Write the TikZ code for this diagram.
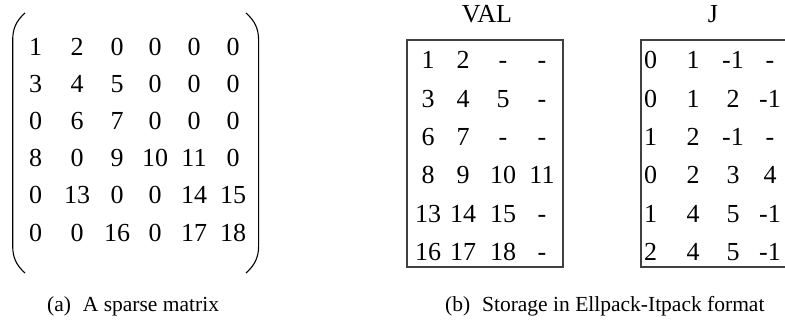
\documentclass[tikz,border=0pt]{standalone}
\usepackage{fontspec}
\setmainfont{Liberation Serif}
\begin{document}
\begin{tikzpicture}[x=1pt,y=-1pt,
  entry/.style={inner sep=0pt, anchor=center, text height=17.6pt, text depth=0pt,
                font=\fontsize{26}{30}\selectfont},
  label/.style={inner sep=0pt, anchor=base, font=\fontsize{26}{30}\selectfont},
  caption/.style={inner sep=0pt, anchor=base west, font=\fontsize{21.5}{26}\selectfont},
  paren/.style={line width=1.1pt, black},
  frame/.style={draw=black!75, line width=1.1pt}]
\useasboundingbox (0,0) rectangle (785,323);
\clip (0,0) rectangle (785,323);

% ---- (a) the sparse matrix ----
\def\rowsA{{"1","2","0","0","0","0"},{"3","4","5","0","0","0"},{"0","6","7","0","0","0"},{"8","0","9","10","11","0"},{"0","13","0","0","14","15"},{"0","0","16","0","17","18"}}
\foreach \r [count=\i] in {46.7,83.5,120.7,157.6,195,233.2}{
  \foreach \c [count=\j] in {35.5,77,117,155,194,233}{
    \pgfmathsetmacro{\txt}{{\rowsA}[\i-1][\j-1]}
    \node[entry] (a-\i-\j) at (\c,\r) {\txt};
  }
}
% delimiters drawn as thin curves
\draw[paren] (25,13) .. controls (16,21) and (12.7,29) .. (12.7,40)
  -- (12.7,246) .. controls (12.7,257) and (16,265) .. (25,273);
\draw[paren] (246,13) .. controls (255,21) and (258.6,29) .. (258.6,40)
  -- (258.6,246) .. controls (258.6,257) and (255,265) .. (246,273);
\node[caption] (capA) at (47,312) {(a)\hskip 0.55em A sparse matrix};

% ---- (b) Ellpack-Itpack storage ----
\node[label] (valT) at (487,23) {VAL};
\node[label] (jT) at (713,23) {J};
\draw[frame] (407,40) rectangle (563,267);
\draw[frame] (641,40) rectangle (800,267);

\def\rowsV{{"1","2","-","-"},{"3","4","5","-"},{"6","7","-","-"},{"8","9","10","11"},{"13","14","15","-"},{"16","17","18","-"}}
\def\rowsJ{{"0","1","-1","-"},{"0","1","2","-1"},{"1","2","-1","-"},{"0","2","3","4"},{"1","4","5","-1"},{"2","4","5","-1"}}
\foreach \r [count=\i] in {60,99,137,175,213.5,252}{
  \foreach \c [count=\j] in {428,463,503,542}{
    \pgfmathsetmacro{\txt}{{\rowsV}[\i-1][\j-1]}
    \node[entry] (v-\i-\j) at (\c,\r) {\txt};
  }
  \foreach \c [count=\j] in {650.5,693,733,770}{
    \pgfmathsetmacro{\txt}{{\rowsJ}[\i-1][\j-1]}
    \node[entry] (j-\i-\j) at (\c,\r) {\txt};
  }
}
\node[caption] (capB) at (445,312) {(b)\hskip 0.55em Storage in Ellpack-Itpack format};
\end{tikzpicture}
\end{document}
